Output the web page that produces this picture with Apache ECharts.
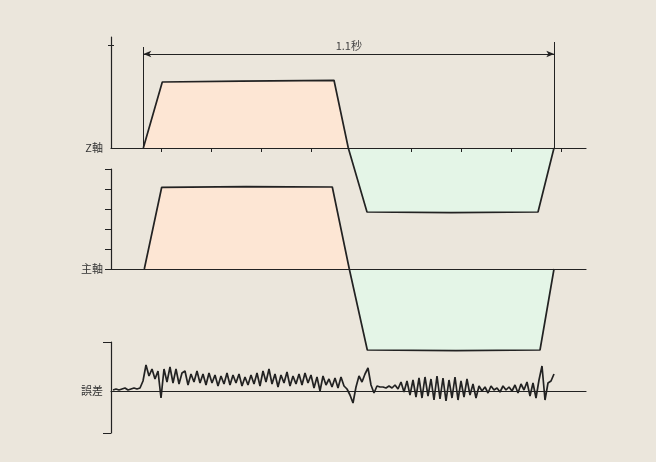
<!DOCTYPE html>
<html>
<head>
<meta charset="utf-8">
<script src="https://cdn.jsdelivr.net/npm/echarts@6/dist/echarts.min.js"></script>
<style>
html,body{margin:0;padding:0;background:#ebe6dc;}
#c{width:656px;height:462px;}
</style>
</head>
<body>
<div id="c"></div>
<script>
// Labels
const panelNames = ['Z軸', '主軸', '誤差'];
const spanLabel = '1.1秒';
const xTicks = [1, 2, 3, 4, 6, 7, 8, 9];

// Z-axis velocity profile [time(div), value]
const zPositive = [[0.646, 0], [1.026, 66], [2.6, 66.8], [4.46, 67.7], [4.746, 0]];
const zNegative = [[4.746, 0], [5.12, -64], [6.8, -64.6], [8.54, -64], [8.86, 0]];

// Spindle velocity profile
const mainPositive = [[0.666, 0], [1.014, 81.7], [2.7, 82.3], [4.426, 82], [4.766, 0]];
const mainNegative = [[4.766, 0], [5.126, -81], [6.9, -81.6], [8.58, -81], [8.86, 0]];

// Synchronisation error samples
const errStart = 0.04;
const errStep = 0.06;
const errValues = [
  1, 2, 1, 2, 3, 1, 2, 3, 2, 3,
  10, 26, 15, 22, 12, 20, -7, 22, 9, 24,
  8, 22, 7, 18, 20, 6, 17, 9, 20, 8,
  17, 6, 18, 8, 16, 5, 15, 7, 18, 6,
  16, 8, 17, 5, 14, 6, 16, 7, 18, 5,
  20, 9, 22, 7, 17, 4, 16, 8, 19, 5,
  15, 7, 17, 6, 18, 8, 16, 3, 14, 0,
  15, 6, 12, 4, 13, 3, 14, 5, 2, -4,
  -12, 4, 15, 9, 17, 23, 6, -2, 5, 4,
  4, 3, 5, 3, 6, 2, 9, -1, 10, -4,
  11, -6, 13, -7, 14, -5, 12, -9, 15, -8,
  13, -10, 11, -7, 14, -9, 10, -6, 12, -4,
  7, -7, 5, 0, 4, -2, 5, 1, 3, -1,
  5, 1, 4, 0, 6, -2, 7, 1, 9, -5,
  8, -7, 11, 25, -9, 8, 10, 17
];

// Dimension annotation (time span of the move)
const spanStart = 0.646;
const spanEnd = 8.866;
const spanLeftTop = 101;
const spanRightTop = 106;
const spanArrowY = 94;

const errData = errValues.map((v, i) => [errStart + i * errStep, v]);

const INK = '#222';
const FONT = '"Noto Sans CJK JP", "Noto Sans", sans-serif';

function xAx(grid, ticks) {
  return {
    type: 'value', gridIndex: grid, min: 0, max: 9.5, z: 5,
    axisLine: { show: true, onZero: true, lineStyle: { color: INK, width: 1.2 } },
    axisTick: ticks ? { show: true, inside: false, length: 4, customValues: xTicks, lineStyle: { color: INK, width: 1 } } : { show: false },
    axisLabel: { show: false },
    splitLine: { show: false }
  };
}
const labelStyle = { color: '#333', fontSize: 11, fontFamily: FONT, margin: 8 };

const chart = echarts.init(document.getElementById('c'), null, { renderer: 'canvas' });
chart.setOption({
  backgroundColor: '#ebe6dc',
  animation: false,
  grid: [
    { left: 111, right: 70, top: 37, height: 111 },
    { left: 111, right: 70, top: 169, height: 100 },
    { left: 111, right: 70, top: 342, height: 91 }
  ],
  xAxis: [xAx(0, true), xAx(1, false), xAx(2, false)],
  yAxis: [
    {
      type: 'value', gridIndex: 0, min: 0, max: 111,
      axisLine: { show: true, lineStyle: { color: INK, width: 1.2 } },
      axisTick: { show: true, length: 3, customValues: [102.3], lineStyle: { color: INK } },
      axisLabel: Object.assign({ show: true, customValues: [0], formatter: () => panelNames[0] }, labelStyle),
      splitLine: { show: false }
    },
    {
      type: 'value', gridIndex: 0, min: 0, max: 111, position: 'left',
      axisLine: { show: false },
      axisTick: { show: true, inside: true, length: 3, customValues: [102.3], lineStyle: { color: INK } },
      axisLabel: { show: false },
      splitLine: { show: false }
    },
    {
      type: 'value', gridIndex: 1, min: 0, max: 100, interval: 20,
      axisLine: { show: true, lineStyle: { color: INK, width: 1.2 } },
      axisTick: { show: true, length: 6, lineStyle: { color: INK } },
      axisLabel: Object.assign({ show: true, formatter: v => (v === 0 ? panelNames[1] : '') }, labelStyle),
      splitLine: { show: false }
    },
    {
      type: 'value', gridIndex: 2, min: -42, max: 49,
      axisLine: { show: true, lineStyle: { color: INK, width: 1.2 } },
      axisTick: { show: true, length: 8, customValues: [-42, 49], lineStyle: { color: INK } },
      axisLabel: Object.assign({ show: true, customValues: [0], formatter: () => panelNames[2] }, labelStyle),
      splitLine: { show: false }
    }
  ],
  series: [
    {
      type: 'line', xAxisIndex: 0, yAxisIndex: 0, data: zPositive, symbol: 'none', clip: false,
      lineStyle: { color: INK, width: 1.7 }, areaStyle: { color: '#fde6d4', opacity: 1 },
      markLine: {
        silent: true, animation: false, symbol: ['arrow', 'arrow'], symbolSize: [5, 8],
        lineStyle: { color: INK, width: 1, type: 'solid' },
        label: { show: false },
        data: [
          [{ coord: [spanStart, 0], symbol: 'none' }, { coord: [spanStart, spanLeftTop], symbol: 'none' }],
          [{ coord: [spanEnd, 0], symbol: 'none' }, { coord: [spanEnd, spanRightTop], symbol: 'none' }],
          [{ coord: [spanStart, spanArrowY] }, {
            coord: [spanEnd, spanArrowY],
            label: { show: true, formatter: spanLabel, position: 'insideMiddleTop', distance: 3, color: '#444', fontSize: 11, fontFamily: FONT }
          }]
        ]
      }
    },
    {
      type: 'line', xAxisIndex: 0, yAxisIndex: 0, data: zNegative, symbol: 'none', clip: false,
      lineStyle: { color: INK, width: 1.7 }, areaStyle: { color: '#e4f5e7', opacity: 1 }
    },
    {
      type: 'line', xAxisIndex: 1, yAxisIndex: 2, data: mainPositive, symbol: 'none', clip: false,
      lineStyle: { color: INK, width: 1.7 }, areaStyle: { color: '#fde6d4', opacity: 1 }
    },
    {
      type: 'line', xAxisIndex: 1, yAxisIndex: 2, data: mainNegative, symbol: 'none', clip: false,
      lineStyle: { color: INK, width: 1.7 }, areaStyle: { color: '#e4f5e7', opacity: 1 }
    },
    {
      type: 'line', xAxisIndex: 2, yAxisIndex: 3, data: errData, symbol: 'none', clip: false,
      lineStyle: { color: INK, width: 1.7 }
    }
  ]
});
</script>
</body>
</html>
